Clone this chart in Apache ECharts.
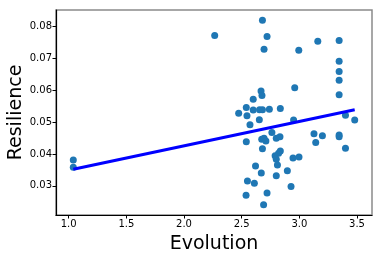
<!DOCTYPE html>
<html>
<head>
<meta charset="utf-8">
<script src="https://cdn.jsdelivr.net/npm/echarts@6/dist/echarts.min.js"></script>
<style>html,body{margin:0;padding:0;background:#fff}#c{width:382px;height:260px}</style>
</head>
<body>
<div id="c"></div>
<script>
const evolution = [1.04,1.04,2.266,2.68,2.72,2.694,2.995,3.16,3.345,3.345,3.345,3.345,3.345,2.96,2.668,2.676,2.60,2.54,2.60,2.655,2.68,2.74,2.835,2.474,2.546,2.653,2.572,2.95,3.40,3.48,2.762,3.127,3.20,3.345,3.345,3.142,2.54,2.674,2.694,2.71,2.80,2.832,3.40,2.68,2.835,2.82,2.79,2.80,2.945,2.997,2.81,2.62,2.67,2.896,2.80,2.55,2.61,2.928,2.72,2.538,2.69];
const resilience = [0.0381,0.0358,0.0770,0.0818,0.0767,0.0727,0.0724,0.0752,0.0755,0.0690,0.0658,0.0630,0.0585,0.0607,0.0597,0.0583,0.0571,0.0545,0.0537,0.0538,0.0538,0.0540,0.0542,0.0527,0.0519,0.0507,0.0491,0.0506,0.0521,0.0506,0.0467,0.0463,0.0457,0.0459,0.0454,0.0436,0.0438,0.0446,0.0449,0.0440,0.0449,0.0454,0.0418,0.0416,0.0409,0.0402,0.0394,0.0383,0.0387,0.0390,0.0365,0.0362,0.0340,0.0347,0.0332,0.0315,0.0308,0.0298,0.0278,0.0271,0.0241];
const fitX = [1.04, 3.48];
const fitY = [0.0352, 0.0538];
const xTicks = [1.0,1.5,2.0,2.5,3.0,3.5];
const yTicks = [0.03,0.04,0.05,0.06,0.07,0.08];

const chart = echarts.init(document.getElementById('c'), null, {renderer:'canvas'});
const font = 'DejaVu Sans';
chart.setOption({
  animation:false,
  backgroundColor:'#fff',
  grid:{left:56,right:10,top:10,bottom:45,containLabel:false,outerBoundsMode:'none',show:true,borderColor:'#8a8a8a',borderWidth:1.5,backgroundColor:'transparent'},
  xAxis:{
    type:'value',min:0.89,max:3.63,
    name:'Evolution',nameLocation:'middle',nameGap:20,nameMoveOverlap:false,
    nameTextStyle:{fontFamily:font,fontSize:19,color:'#000'},
    axisLine:{show:true,onZero:false,lineStyle:{color:'#000',width:1.2}},
    axisTick:{show:true,length:3.5,customValues:xTicks,lineStyle:{color:'#000'}},
    axisLabel:{customValues:xTicks,fontFamily:font,fontSize:10,color:'#000',margin:4,formatter:v=>v.toFixed(1)},
    splitLine:{show:false}
  },
  yAxis:{
    type:'value',min:0.0209,max:0.085,
    name:'Resilience',nameLocation:'middle',nameGap:30,nameRotate:90,nameMoveOverlap:false,
    nameTextStyle:{fontFamily:font,fontSize:19,color:'#000'},
    axisLine:{show:true,onZero:false,lineStyle:{color:'#000',width:1.2}},
    axisTick:{show:true,length:3.5,customValues:yTicks,lineStyle:{color:'#000'}},
    axisLabel:{customValues:yTicks,fontFamily:font,fontSize:10,color:'#000',margin:4,formatter:v=>v.toFixed(2)},
    splitLine:{show:false}
  },
  series:[
    {type:'scatter',data:evolution.map((x,i)=>[x,resilience[i]]),symbolSize:7,itemStyle:{color:'#1f77b4',opacity:1},z:2},
    {type:'line',data:fitX.map((x,i)=>[x,fitY[i]]),symbol:'none',lineStyle:{color:'#0000ff',width:3},z:3}
  ]
});
</script>
</body>
</html>
